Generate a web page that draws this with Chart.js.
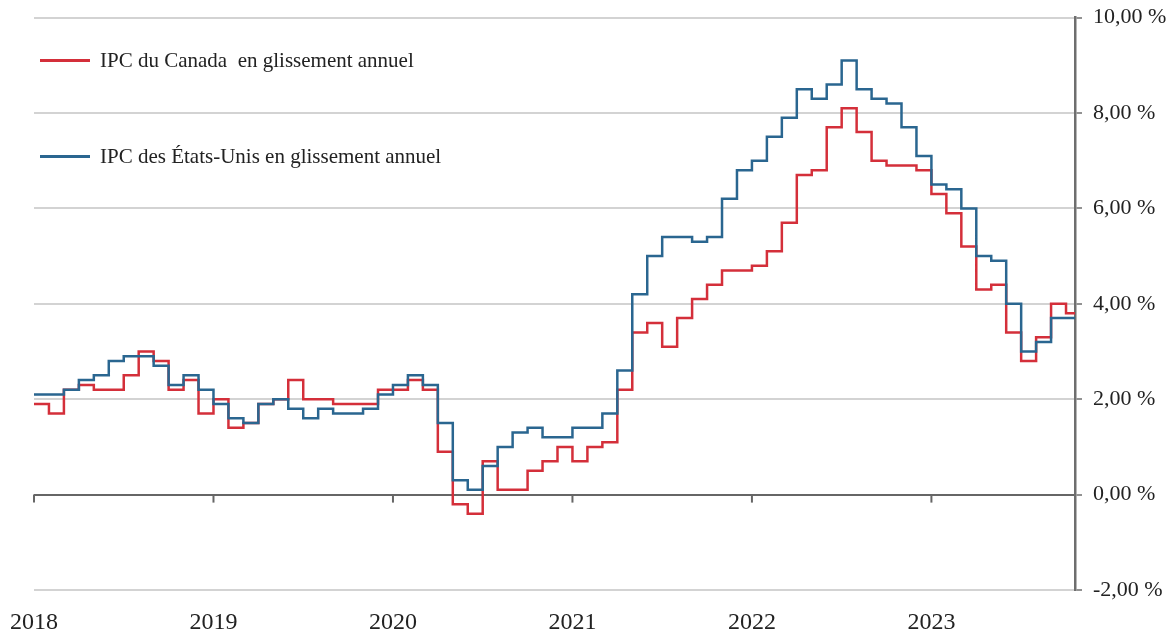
<!DOCTYPE html>
<html lang="fr">
<head>
<meta charset="utf-8">
<title>IPC Canada / États-Unis</title>
<script src="https://cdn.jsdelivr.net/npm/chart.js@4.4.1/dist/chart.umd.min.js"></script>
<style>
  body { margin: 0; background: #fff; }
  #wrap { position: relative; width: 1173px; height: 635px; }
  .leg { position: absolute; left: 40px; font: 21px/21px "Liberation Serif", "Times New Roman", serif; color: #222; white-space: pre; display: flex; align-items: center; }
  .leg i { display: inline-block; width: 50px; height: 2.5px; margin-right: 10px; }
</style>
</head>
<body>
<div id="wrap">
  <canvas id="cpiChart" width="1173" height="635"></canvas>
  <div class="leg" style="top: 50px"><i style="background:#d42f3a"></i>IPC du Canada  en glissement annuel</div>
  <div class="leg" style="top: 146px"><i style="background:#2a6690"></i>IPC des États-Unis en glissement annuel</div>
</div>
<script>
// monthly values, Dec 2017 .. Sep 2023 (%)
const yearLabels = ["2018", "2019", "2020", "2021", "2022", "2023"];
const yTicks = [-2, 0, 2, 4, 6, 8, 10];

const canadaCpi = [
  1.9,
  1.7, 2.2, 2.3, 2.2, 2.2, 2.5, 3.0, 2.8, 2.2, 2.4, 1.7, 2.0,
  1.4, 1.5, 1.9, 2.0, 2.4, 2.0, 2.0, 1.9, 1.9, 1.9, 2.2, 2.2,
  2.4, 2.2, 0.9, -0.2, -0.4, 0.7, 0.1, 0.1, 0.5, 0.7, 1.0, 0.7,
  1.0, 1.1, 2.2, 3.4, 3.6, 3.1, 3.7, 4.1, 4.4, 4.7, 4.7, 4.8,
  5.1, 5.7, 6.7, 6.8, 7.7, 8.1, 7.6, 7.0, 6.9, 6.9, 6.8, 6.3,
  5.9, 5.2, 4.3, 4.4, 3.4, 2.8, 3.3, 4.0, 3.8,
];

const usCpi = [
  2.1,
  2.1, 2.2, 2.4, 2.5, 2.8, 2.9, 2.9, 2.7, 2.3, 2.5, 2.2, 1.9,
  1.6, 1.5, 1.9, 2.0, 1.8, 1.6, 1.8, 1.7, 1.7, 1.8, 2.1, 2.3,
  2.5, 2.3, 1.5, 0.3, 0.1, 0.6, 1.0, 1.3, 1.4, 1.2, 1.2, 1.4,
  1.4, 1.7, 2.6, 4.2, 5.0, 5.4, 5.4, 5.3, 5.4, 6.2, 6.8, 7.0,
  7.5, 7.9, 8.5, 8.3, 8.6, 9.1, 8.5, 8.3, 8.2, 7.7, 7.1, 6.5,
  6.4, 6.0, 5.0, 4.9, 4.0, 3.0, 3.2, 3.7, 3.7,
];

// each month holds its value until the next month starts
const toSteps = (vals) => {
  const pts = vals.map((v, i) => ({ x: i, y: v }));
  pts.push({ x: vals.length, y: vals[vals.length - 1] });
  return pts;
};

const serif = '"Liberation Serif", "Times New Roman", serif';

// small tick marks on the 0 % line at each year
const yearTicks = {
  id: "yearTicks",
  beforeDatasetsDraw(chart) {
    const { ctx, scales } = chart;
    const y0 = scales.y.getPixelForValue(0);
    ctx.save();
    ctx.strokeStyle = "#666";
    ctx.lineWidth = 2;
    yearLabels.forEach((_, i) => {
      const x = scales.x.getPixelForValue(i * 12);
      ctx.beginPath();
      ctx.moveTo(x, y0);
      ctx.lineTo(x, y0 + 8);
      ctx.stroke();
    });
    ctx.restore();
  },
};

new Chart("cpiChart", {
  type: "line",
  data: {
    datasets: [
      {
        label: "IPC des États-Unis en glissement annuel",
        data: toSteps(usCpi),
        borderColor: "#2a6690",
        borderWidth: 2.5,
        stepped: "before",
        pointRadius: 0,
        order: 0,
      },
      {
        label: "IPC du Canada en glissement annuel",
        data: toSteps(canadaCpi),
        borderColor: "#d42f3a",
        borderWidth: 2.5,
        stepped: "before",
        pointRadius: 0,
        order: 1,
      },
    ],
  },
  options: {
    responsive: false,
    animation: false,
    layout: { padding: { left: 33, top: 13, right: 0, bottom: 0 } },
    plugins: { legend: { display: false }, tooltip: { enabled: false } },
    scales: {
      x: {
        type: "linear",
        min: 0,
        max: 69.6,
        grid: { display: false },
        border: { display: false },
        afterBuildTicks: (s) => {
          s.ticks = yearLabels.map((_, i) => ({ value: i * 12 }));
        },
        afterFit: (s) => { s.height = 45; },
        ticks: {
          autoSkip: false,
          maxRotation: 0,
          padding: 10,
          color: "#222",
          font: { family: serif, size: 24 },
          callback: (v) => yearLabels[Math.round(v / 12)],
        },
      },
      y: {
        position: "right",
        min: -2,
        max: 10,
        afterBuildTicks: (s) => {
          s.ticks = yTicks.map((v) => ({ value: v }));
        },
        afterFit: (s) => { s.width = 98; },
        border: { display: true, color: "#6e6e6e", width: 2.5 },
        grid: {
          color: (c) => (c.tick && c.tick.value === 0 ? "#666" : "#d3d3d3"),
          lineWidth: 2,
          tickLength: 7,
          tickColor: "#6e6e6e",
          tickWidth: 1.5,
        },
        ticks: {
          padding: 11,
          color: "#222",
          font: { family: serif, size: 22, lineHeight: 0.6 },
          callback: (v) => v.toFixed(2).replace(".", ",") + " %",
        },
      },
    },
  },
  plugins: [yearTicks],
});
</script>
</body>
</html>
